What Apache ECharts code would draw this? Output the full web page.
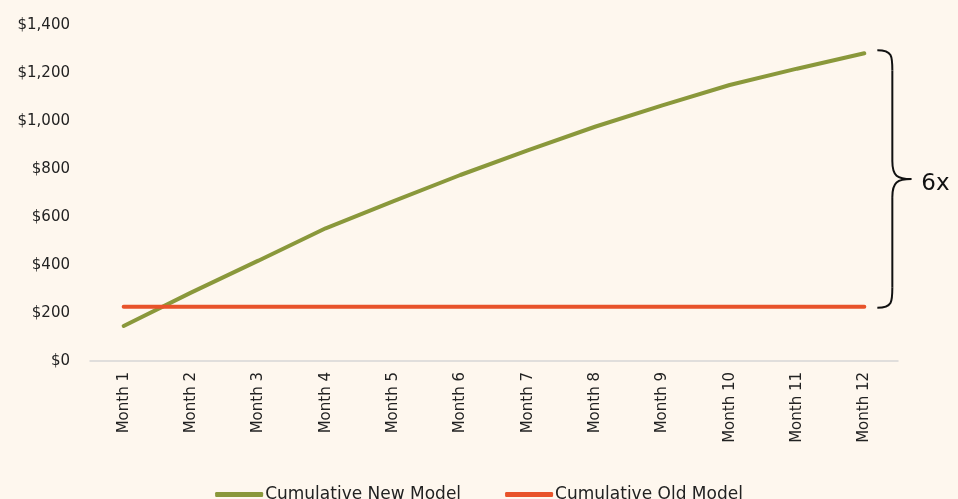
<!DOCTYPE html>
<html>
<head>
<meta charset="utf-8">
<script src="https://cdn.jsdelivr.net/npm/echarts@6/dist/echarts.min.js"></script>
<style>
    html,body{margin:0;padding:0;background:#fef7ee;}
    #chart{width:958px;height:499px;}
</style>
</head>
<body>
<div id="chart"></div>
<script>
// chart data
const months = ['Month 1','Month 2','Month 3','Month 4','Month 5','Month 6','Month 7','Month 8','Month 9','Month 10','Month 11','Month 12']
const newModel = [146, 285, 418, 553, 665, 775, 878, 976, 1065, 1150, 1218, 1282]
const oldModel = [226, 226, 226, 226, 226, 226, 226, 226, 226, 226, 226, 226]
const yTicks = [0, 200, 400, 600, 800, 1000, 1200, 1400]
const braceLabel = '6x'

const myChart = echarts.init(document.getElementById('chart'))

const option = {
    backgroundColor: '#fef7ee',
    animation: false,
    grid: {
        left: 90,
        right: 60,
        top: 25,
        bottom: 138
    },
    legend: {
        top: 481,
        left: 'center',
        itemWidth: 48,
        itemHeight: 5,
        itemGap: 44,
        icon: 'roundRect',
        textStyle: {
            fontFamily: 'DejaVu Sans',
            fontSize: 17,
            padding: [0, 0, 0, -3],
            color: '#222'
        },
        data: ['Cumulative New Model', 'Cumulative Old Model']
    },
    xAxis: {
        type: 'category',
        data: months,
        boundaryGap: true,
        axisLine: { lineStyle: { color: '#d6d6d6', width: 1.5 } },
        axisTick: { show: false },
        axisLabel: {
            rotate: 90,
            margin: 11,
            color: '#222',
            fontFamily: 'DejaVu Sans',
            fontSize: 15
        }
    },
    yAxis: {
        type: 'value',
        min: yTicks[0],
        max: yTicks[yTicks.length - 1],
        interval: yTicks[1] - yTicks[0],
        splitLine: { show: false },
        axisLine: { show: false },
        axisTick: { show: false },
        axisLabel: {
            margin: 20,
            color: '#222',
            fontFamily: 'DejaVu Sans',
            fontSize: 15,
            formatter: v => '$' + v.toLocaleString('en-US')
        }
    },
    series: [
        {
            name: 'Cumulative New Model',
            type: 'line',
            data: newModel,
            symbol: 'none',
            color: '#8a983b',
            lineStyle: { width: 4, cap: 'round' }
        },
        {
            name: 'Cumulative Old Model',
            type: 'line',
            data: oldModel,
            symbol: 'none',
            color: '#e8532a',
            lineStyle: { width: 4, cap: 'round' }
        }
    ]
}
myChart.setOption(option)

// brace annotation from old model to new model at last month
const last = months.length - 1
const topPt = myChart.convertToPixel({ seriesIndex: 0 }, [last, newModel[last]])
const botPt = myChart.convertToPixel({ seriesIndex: 1 }, [last, oldModel[last]])
const x0 = topPt[0] + 13
const xs = x0 + 15
const xt = x0 + 34
const y0 = topPt[1] - 3
const y1 = botPt[1] + 1
const ym = (y0 + y1) / 2
const braceStyle = { fill: 'none', stroke: '#111', lineWidth: 2 }

function curve(x1, y1, cx1, cy1, cx2, cy2, x2, y2){
    return {
        type: 'bezierCurve',
        shape: { x1: x1, y1: y1, cpx1: cx1, cpy1: cy1, cpx2: cx2, cpy2: cy2, x2: x2, y2: y2 },
        style: braceStyle
    }
}
function seg(x1, y1, x2, y2){
    return {
        type: 'line',
        shape: { x1: x1, y1: y1, x2: x2, y2: y2 },
        style: braceStyle
    }
}

myChart.setOption({
    graphic: [
        curve(x0, y0, xs, y0, xs, y0 + 6, xs, y0 + 20),
        seg(xs, y0 + 20, xs, ym - 18),
        curve(xs, ym - 18, xs, ym - 3, xs + 5, ym, xt, ym),
        curve(xt, ym, xs + 5, ym, xs, ym + 3, xs, ym + 18),
        seg(xs, ym + 18, xs, y1 - 20),
        curve(xs, y1 - 20, xs, y1 - 6, xs, y1, x0, y1),
        {
            type: 'text',
            x: xt + 10,
            y: ym + 5,
            style: {
                text: braceLabel,
                fontFamily: 'DejaVu Sans',
                fontSize: 23,
                fill: '#111',
                verticalAlign: 'middle'
            }
        }
    ]
})
</script>
</body>
</html>
